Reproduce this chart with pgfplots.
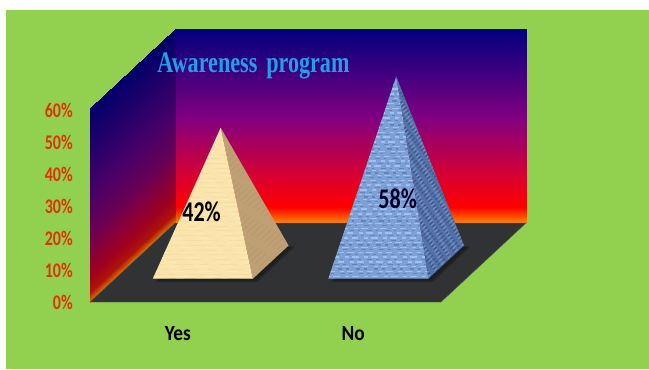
\documentclass[border=0pt]{standalone}
\usepackage{graphicx}
\usepackage{fontspec}
\usepackage{pgfplots}
\pgfplotsset{compat=1.18}
\setmainfont{Carlito}
\newfontfamily\titlefont{Liberation Serif}[Scale=1]
\definecolor{page}{RGB}{146,208,80}
\definecolor{floorc}{RGB}{48,50,52}
\definecolor{ticktext}{RGB}{222,52,8}
\definecolor{titletext}{RGB}{32,160,232}
\definecolor{woodfront}{RGB}{250,228,172}
\definecolor{woodlight}{RGB}{253,238,195}
\definecolor{woodline}{RGB}{238,212,150}
\definecolor{woodside}{RGB}{190,160,116}
\definecolor{woodsided}{RGB}{172,142,100}
\definecolor{bluefront}{RGB}{125,160,215}
\definecolor{bluelight}{RGB}{176,202,242}
\definecolor{bluedark}{RGB}{88,120,175}
\definecolor{blueside}{RGB}{84,114,168}
\definecolor{bluesidel}{RGB}{128,158,210}
\definecolor{bluesided}{RGB}{52,76,120}
% Text is tall and narrow in this chart: stretch it vertically
\newcommand\tall[2][1.3]{\scalebox{1}[#1]{#2}}
\pgfplotsset{
  colormap={backwall}{rgb255(0)=(255,135,0) rgb255(5)=(255,0,0) rgb255(15)=(215,0,50) rgb255(33)=(128,0,128) rgb255(60.6)=(0,0,125)},
  colormap={sidewall}{rgb255(0)=(220,120,0) rgb255(3)=(175,20,10) rgb255(8)=(160,0,30) rgb255(22)=(105,0,85) rgb255(35)=(70,0,105) rgb255(60.6)=(0,0,105)},
}
\begin{document}
\begin{tikzpicture}
\path[use as bounding box] (0,0) rectangle (486.75pt,276.75pt);
\fill[white] (0,0) rectangle (486.75pt,276.75pt);
\fill[page] (4.5pt,0) rectangle (486.75pt,269.25pt);
\begin{axis}[
  anchor=origin, at={(67.5pt,50.25pt)},
  x={(131.625pt,0pt)}, y={(63.75pt,59.25pt)}, z={(0pt,2.4pt)},
  xmin=0, xmax=2, ymin=0, ymax=1, zmin=0, zmax=60.6,
  point meta min=0, point meta max=60.6,
  clip=false,
  axis line style={draw=none},
  major tick length=0pt,
  xtick={0.5,1.5}, xticklabels={\tall[1.12]{Yes},\tall[1.12]{No}},
  ytick=\empty,
  ztick={0,10,20,30,40,50,60},
  zticklabels={\tall{0\%},\tall{10\%},\tall{20\%},\tall{30\%},\tall{40\%},\tall{50\%},\tall{60\%}},
  x tick label style={font=\fontsize{14.5pt}{16pt}\selectfont\bfseries, text=black, anchor=center, yshift=-24pt},
  z tick label style={font=\fontsize{12pt}{14pt}\selectfont\bfseries, text=ticktext, anchor=east, xshift=-9.4pt},
]
% Back wall, side wall and floor of the chart box
\addplot3[surf, shader=interp, colormap name=backwall, point meta=z, forget plot] table[row sep=\\] {
x y z\\ 0 1 0\\ 2 1 0\\ \\ 0 1 60.6\\ 2 1 60.6\\
};
\addplot3[surf, shader=interp, colormap name=sidewall, point meta=z, forget plot] table[row sep=\\] {
x y z\\ 0 0 0\\ 0 1 0\\ \\ 0 0 60.6\\ 0 1 60.6\\
};
\addplot3[fill=floorc, draw=gray!70!black, line width=.3pt, forget plot] coordinates {(0,0,0) (2,0,0) (2,1,0) (0,1,0) (0,0,0)};

% Shadows on the floor
\addplot3[fill=black, draw=none, opacity=.22, forget plot] coordinates {(.25,.27,0) (.815,.27,0) (.815,.70,0) (.25,.70,0)};
\addplot3[fill=black, draw=none, opacity=.22, forget plot] coordinates {(.25,.25,0) (.83,.25,0) (.83,.70,0) (.25,.70,0)};
\addplot3[fill=black, draw=none, opacity=.22, forget plot] coordinates {(1.25,.27,0) (1.815,.27,0) (1.815,.70,0) (1.25,.70,0)};
\addplot3[fill=black, draw=none, opacity=.22, forget plot] coordinates {(1.25,.25,0) (1.83,.25,0) (1.83,.70,0) (1.25,.70,0)};

% Pyramid "Yes": 42 %
\addplot3[fill=woodside, draw=none, forget plot] coordinates {(.785,.295,0) (.785,.715,0) (.5,.505,42)};
\addplot3[fill=woodfront, draw=none, forget plot] coordinates {(.215,.295,0) (.785,.295,0) (.5,.505,42)};
\begin{scope}
\clip (axis cs:.215,.295,0) -- (axis cs:.785,.295,0) -- (axis cs:.5,.505,42) -- cycle;
\pgfplotsinvokeforeach{0,1,...,28}{
  \draw[woodline, line width=.5pt, opacity=.35, dash pattern=on 14pt off 5pt on 6pt off 9pt, dash phase=#1*5.3pt]
    (axis cs:.2,.295,#1*1.5) -- (axis cs:.8,.295,#1*1.5);
  \draw[woodlight, line width=.7pt, opacity=.5, dash pattern=on 9pt off 11pt, dash phase=#1*3.1pt]
    (axis cs:.2,.295,#1*1.5+.7) -- (axis cs:.8,.295,#1*1.5+.7);
}
\end{scope}
\begin{scope}
\clip (axis cs:.785,.295,0) -- (axis cs:.785,.715,0) -- (axis cs:.5,.505,42) -- cycle;
\pgfplotsinvokeforeach{0,1,...,30}{
  \draw[woodsided, line width=.6pt, opacity=.4, dash pattern=on 12pt off 6pt, dash phase=#1*4.3pt]
    (axis cs:.785,-.2,#1*2) -- (axis cs:.785,.8,#1*2);
}
\end{scope}

% Pyramid "No": 58 %
\addplot3[fill=blueside, draw=none, forget plot] coordinates {(1.785,.295,0) (1.785,.715,0) (1.5,.505,58)};
\addplot3[fill=bluefront, draw=none, forget plot] coordinates {(1.215,.295,0) (1.785,.295,0) (1.5,.505,58)};
\begin{scope}
\clip (axis cs:1.215,.295,0) -- (axis cs:1.785,.295,0) -- (axis cs:1.5,.505,58) -- cycle;
\pgfplotsinvokeforeach{0,1,...,40}{
  \draw[bluedark, line width=.9pt, opacity=.7, dash pattern=on 3.5pt off 3pt on 2pt off 5pt, dash phase=#1*2.3pt]
    (axis cs:1.2,.295,#1*1.5) -- (axis cs:1.8,.295,#1*1.5);
  \draw[bluelight, line width=1pt, opacity=.75, dash pattern=on 3pt off 2.5pt on 5pt off 4pt, dash phase=#1*3.7pt]
    (axis cs:1.2,.295,#1*1.5+.75) -- (axis cs:1.8,.295,#1*1.5+.75);
}
\end{scope}
\begin{scope}
\clip (axis cs:1.785,.295,0) -- (axis cs:1.785,.715,0) -- (axis cs:1.5,.505,58) -- cycle;
\pgfplotsinvokeforeach{0,1,...,54}{
  \draw[bluesided, line width=.8pt, opacity=.7, dash pattern=on 3pt off 2pt on 2pt off 3pt, dash phase=#1*2.3pt]
    (axis cs:1.785,-.2,#1*1.5) -- (axis cs:1.785,.8,#1*1.5);
  \draw[bluesidel, line width=.8pt, opacity=.7, dash pattern=on 3pt off 4pt, dash phase=#1*1.7pt]
    (axis cs:1.785,-.2,#1*1.5+.75) -- (axis cs:1.785,.8,#1*1.5+.75);
}
\end{scope}

% Value labels and the title
\node[font=\fontsize{16.5pt}{18pt}\selectfont\bfseries, text=black] at (axis cs:.493,.295,21) {\tall{42\%}};
\node[font=\fontsize{16.5pt}{18pt}\selectfont\bfseries, text=black!85!blue] at (axis cs:1.61,.295,24.9) {\tall{58\%}};
\node[font=\titlefont\fontsize{16.6pt}{18pt}\selectfont\bfseries, text=titletext, anchor=base] at (axis cs:.447,1,46.9) {\tall[1.35]{Awareness\hspace{.15em} program}};
\end{axis}
\end{tikzpicture}
\end{document}
